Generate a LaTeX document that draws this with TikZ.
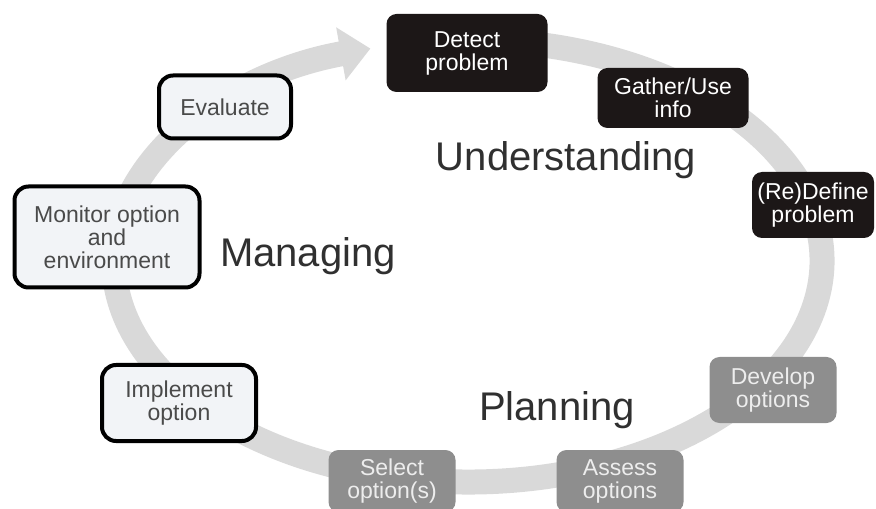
\documentclass[tikz,border=0pt]{standalone}
\usepackage{fontspec}
\setmainfont{Liberation Sans}
\usetikzlibrary{arrows.meta}
\definecolor{ringgray}{HTML}{D9D9D9}
\definecolor{darkbox}{HTML}{1C1717}
\definecolor{graybox}{HTML}{8E8E8E}
\definecolor{graytext}{HTML}{EDEDED}
\definecolor{lightbox}{HTML}{F2F4F7}
\definecolor{darktext}{HTML}{4A4A4A}
\definecolor{phasetext}{HTML}{303030}
\begin{document}
\begin{tikzpicture}[x=0.5pt,y=0.5pt,
ring/.style={line width=12.5pt,draw=ringgray,-{Triangle[length=15pt,width=26pt,fill=ringgray]}},
box/.style={rectangle,rounded corners=5pt,align=center,inner sep=2pt,font=\fontsize{11.5}{11.5}\selectfont},
understand/.style={box,fill=darkbox,text=white},
plan/.style={box,fill=graybox,text=graytext},
manage/.style={box,draw=black,line width=2pt,fill=lightbox,text=darktext,rounded corners=7pt},
phase/.style={font=\fontsize{20}{24}\selectfont,text=phasetext}]
\useasboundingbox (0,0) rectangle (876,508);
\draw[ring] (468,247) ++(80:354 and 221) arc[start angle=80,end angle=-254,x radius=354,y radius=221];
\node[understand,minimum width=80.5pt,minimum height=39pt] (detect) at (467,455) {Detect\\problem};
\node[understand,minimum width=75.5pt,minimum height=30pt] (gather) at (673,410) {Gather/Use\\info};
\node[understand,minimum width=61pt,minimum height=33pt] (redefine) at (813,303) {(Re)Define\\problem};
\node[plan,minimum width=63.5pt,minimum height=33pt] (develop) at (773,118) {Develop\\options};
\node[plan,minimum width=63.5pt,minimum height=31pt] (assess) at (620,27) {Assess\\options};
\node[plan,minimum width=63.5pt,minimum height=31pt] (select) at (392,27) {Select\\option(s)};
\node[manage,minimum width=77pt,minimum height=38pt] (implement) at (179,105) {Implement\\option};
\node[manage,minimum width=92.5pt,minimum height=50.5pt] (monitor) at (107,271) {Monitor option\\and\\environment};
\node[manage,minimum width=66pt,minimum height=31.5pt] (evaluate) at (225,401) {Evaluate};
\node[phase] (understanding) at (566,348) {Understanding};
\node[phase] (managing) at (308,252) {Managing};
\node[phase] (planning) at (557,98) {Planning};
\end{tikzpicture}
\end{document}
